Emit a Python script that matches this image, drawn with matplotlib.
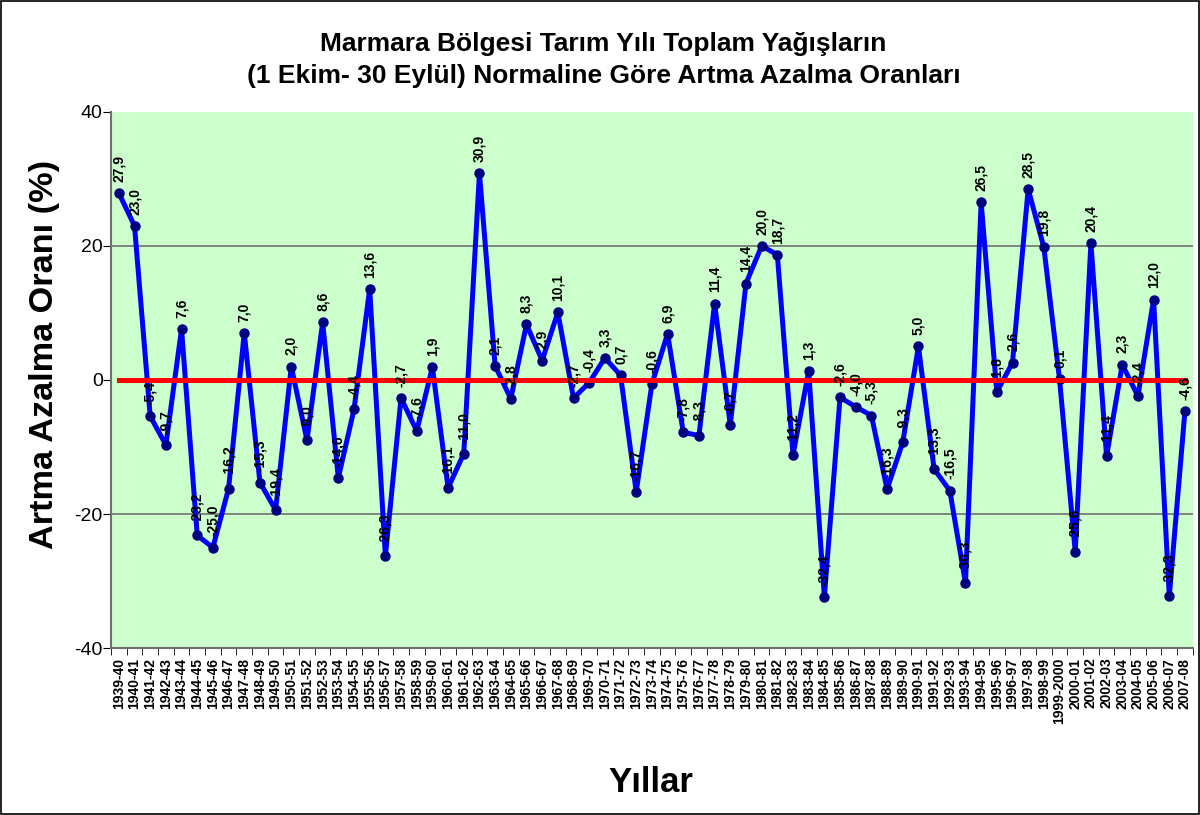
import numpy as np
import matplotlib
matplotlib.use("Agg")
import matplotlib.pyplot as plt
from matplotlib.patches import Rectangle

plt.rcParams["font.family"] = ["Liberation Sans", "DejaVu Sans"]

# Tarım yılları ve normale göre artma/azalma oranları (%)
years = [
    "1939-40", "1940-41", "1941-42", "1942-43", "1943-44", "1944-45", "1945-46",
    "1946-47", "1947-48", "1948-49", "1949-50", "1950-51", "1951-52", "1952-53",
    "1953-54", "1954-55", "1955-56", "1956-57", "1957-58", "1958-59", "1959-60",
    "1960-61", "1961-62", "1962-63", "1963-64", "1964-65", "1965-66", "1966-67",
    "1967-68", "1968-69", "1969-70", "1970-71", "1971-72", "1972-73", "1973-74",
    "1974-75", "1975-76", "1976-77", "1977-78", "1978-79", "1979-80", "1980-81",
    "1981-82", "1982-83", "1983-84", "1984-85", "1985-86", "1986-87", "1987-88",
    "1988-89", "1989-90", "1990-91", "1991-92", "1992-93", "1993-94", "1994-95",
    "1995-96", "1996-97", "1997-98", "1998-99", "1999-2000", "2000-01", "2001-02",
    "2002-03", "2003-04", "2004-05", "2005-06", "2006-07", "2007-08",
]
rates = [
    27.9, 23.0, -5.4, -9.7, 7.6, -23.2, -25.0,
    -16.2, 7.0, -15.3, -19.4, 2.0, -9.0, 8.6,
    -14.6, -4.4, 13.6, -26.3, -2.7, -7.6, 1.9,
    -16.1, -11.0, 30.9, 2.1, -2.8, 8.3, 2.9,
    10.1, -2.7, -0.4, 3.3, 0.7, -16.7, -0.6,
    6.9, -7.8, -8.3, 11.4, -6.7, 14.4, 20.0,
    18.7, -11.2, 1.3, -32.4, -2.6, -4.0, -5.3,
    -16.3, -9.3, 5.0, -13.3, -16.5, -30.3, 26.5,
    -1.8, 2.6, 28.5, 19.8, 0.1, -25.6, 20.4,
    -11.4, 2.3, -2.4, 12.0, -32.3, -4.6,
]
normal = [0.0] * len(years)
y_ticks = [-40, -20, 0, 20, 40]

fig = plt.figure(figsize=(12, 8.15), dpi=100)
fig.patches.append(Rectangle((0.001, 0.001), 0.998, 0.998, transform=fig.transFigure,
                             fill=False, edgecolor="black", linewidth=1.2))
ax = fig.add_axes([0.0925, 0.2049, 0.9015, 0.6577])
ax.set_facecolor("#CCFFCC")

x = np.arange(len(years))
ax.plot(x, rates, color="#0000FF", linewidth=3.6, marker="o", markersize=6.5,
        markerfacecolor="#000080", markeredgecolor="#000080", zorder=3)
ax.plot(x, normal, color="#FF0000", linewidth=3.6, zorder=4)

for xi, v in zip(x, rates):
    ax.annotate(f"{v:.1f}".replace(".", ","), (xi, v), xytext=(0, 8),
                textcoords="offset points", rotation=90, ha="center", va="bottom",
                fontsize=10, fontweight="bold", zorder=5)

ax.set_xlim(-0.5, len(years) - 0.5)
ax.set_ylim(-40, 40)
ax.set_yticks(y_ticks)
ax.set_yticklabels([str(t) for t in y_ticks], fontsize=14)
for g in (-20, 20):
    ax.axhline(g, color="#707070", linewidth=1.2, zorder=1)

ax.set_xticks(x)
ax.set_xticklabels(years, rotation=90, fontsize=10, fontweight="bold")
ax.tick_params(axis="x", which="major", length=0, pad=7)
ax.set_xticks(np.arange(-0.5, len(years), 1.0), minor=True)
ax.tick_params(axis="x", which="minor", length=5, color="black", direction="out")
ax.tick_params(axis="y", length=6, color="black", direction="out", pad=0)

for side in ("top", "right"):
    ax.spines[side].set_visible(False)
for side in ("left", "bottom"):
    ax.spines[side].set_color("#707070")
    ax.spines[side].set_linewidth(1.5)

fig.text(0.0375, 0.5656, "Artma Azalma Oranı (%)", rotation=90, ha="center", va="center",
         fontsize=24.7, fontweight="bold")
fig.text(0.542, 0.028, "Yıllar", ha="center", va="baseline", fontsize=25, fontweight="bold")
fig.text(0.503, 0.946, "Marmara Bölgesi Tarım Yılı Toplam Yağışların", ha="center",
         va="center", fontsize=19, fontweight="bold")
fig.text(0.503, 0.907, "(1 Ekim- 30 Eylül) Normaline Göre Artma Azalma Oranları",
         ha="center", va="center", fontsize=19, fontweight="bold")

fig.savefig("out.png", dpi=100)
